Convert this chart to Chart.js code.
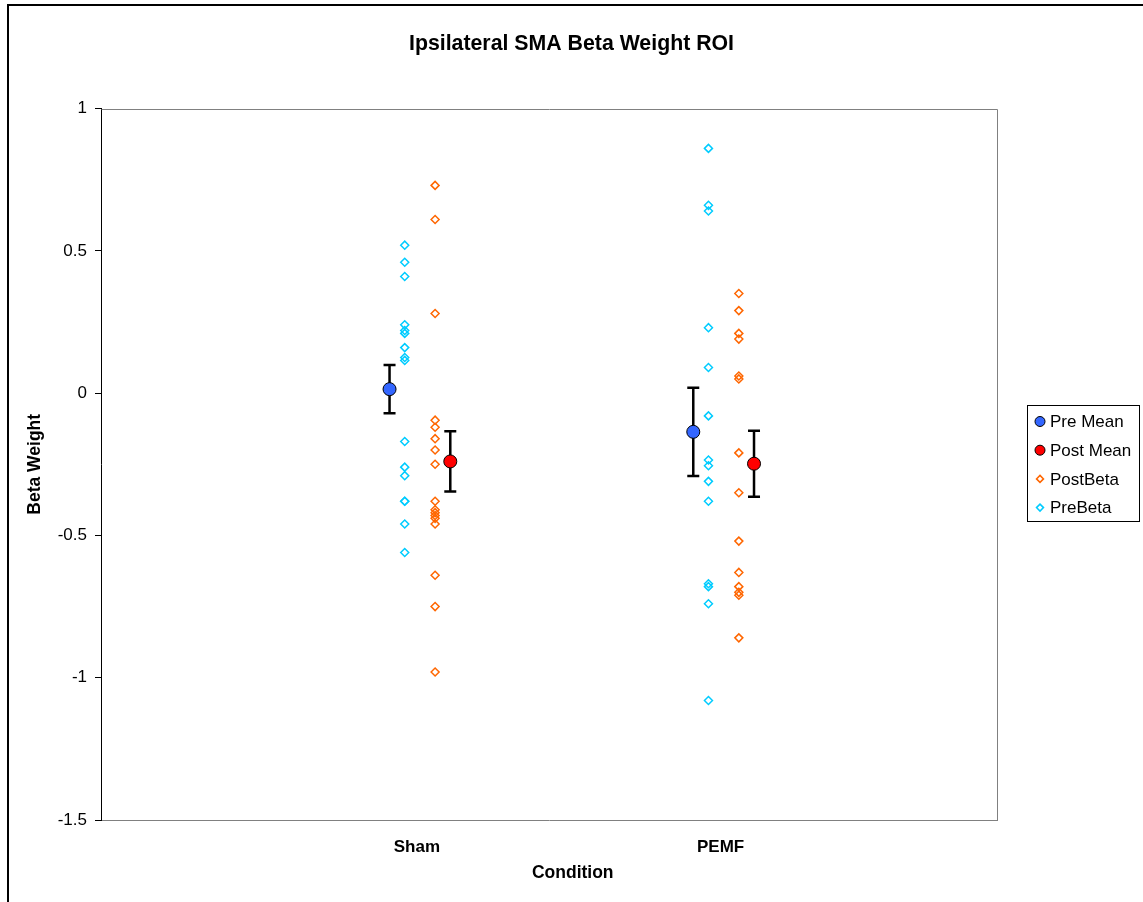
<!DOCTYPE html>
<html><head><meta charset="utf-8">
<script src="https://cdn.jsdelivr.net/npm/chart.js@4.4.0/dist/chart.umd.min.js"></script>
<style>html,body{margin:0;padding:0;background:#fff}#wrap{width:1143px;height:902px;position:relative}</style>
</head><body><div id="wrap"><canvas id="c" width="1143" height="902"></canvas></div>
<script>
// ---- data ----
const categories = ['Sham', 'PEMF'];
const categoryX = [1, 2];
const preMean = [0.014, -0.136];
const preErr = [0.085, 0.155];
const postMean = [-0.240, -0.248];
const postErr = [0.106, 0.116];
const shamPreBeta = [0.52, 0.46, 0.41, 0.24, 0.22, 0.21, 0.16, 0.125, 0.115, -0.17, -0.26, -0.29, -0.38, -0.38, -0.46, -0.56];
const shamPostBeta = [0.73, 0.61, 0.28, -0.095, -0.12, -0.16, -0.20, -0.25, -0.38, -0.41, -0.42, -0.43, -0.44, -0.46, -0.64, -0.75, -0.98];
const pemfPreBeta = [0.86, 0.66, 0.64, 0.23, 0.09, -0.08, -0.235, -0.255, -0.31, -0.38, -0.67, -0.68, -0.74, -1.08];
const pemfPostBeta = [0.35, 0.29, 0.21, 0.19, 0.06, 0.05, -0.21, -0.35, -0.52, -0.63, -0.68, -0.70, -0.71, -0.86];
const yMin = -1.5, yMax = 1, yStep = 0.5;

// ---- layout offsets (not data) ----
const preMeanOffset = -0.05, postMeanOffset = 0.15, preBetaOffset = 0, postBetaOffset = 0.1, labelOffset = 0.04;
const FONT = "'Liberation Sans', Arial, sans-serif";

function pts(vals, x) { return vals.map(v => ({x: x, y: v})); }

const datasets = [
  { label: 'Pre Mean', data: categoryX.map((c, i) => ({x: c + preMeanOffset, y: preMean[i]})), errors: preErr,
    pointStyle: 'circle', pointRadius: 6.5, backgroundColor: '#3366FF', borderColor: '#000', borderWidth: 1, legendRadius: 5 },
  { label: 'Post Mean', data: categoryX.map((c, i) => ({x: c + postMeanOffset, y: postMean[i]})), errors: postErr,
    pointStyle: 'circle', pointRadius: 6.5, backgroundColor: '#FF0000', borderColor: '#000', borderWidth: 1, legendRadius: 5 },
  { label: 'PostBeta', data: pts(shamPostBeta, categoryX[0] + postBetaOffset).concat(pts(pemfPostBeta, categoryX[1] + postBetaOffset)),
    pointStyle: 'rectRot', pointRadius: 4, backgroundColor: 'rgba(0,0,0,0)', borderColor: '#FF6600', borderWidth: 1.5, legendRadius: 3.5 },
  { label: 'PreBeta', data: pts(shamPreBeta, categoryX[0] + preBetaOffset).concat(pts(pemfPreBeta, categoryX[1] + preBetaOffset)),
    pointStyle: 'rectRot', pointRadius: 4, backgroundColor: 'rgba(0,0,0,0)', borderColor: '#00CCFF', borderWidth: 1.5, legendRadius: 3.5 }
];

const framePlugin = {
  id: 'frame',
  beforeDraw(chart) {
    const ctx = chart.ctx;
    ctx.save();
    ctx.fillStyle = '#fff';
    ctx.fillRect(0, 0, chart.width, chart.height);
    ctx.strokeStyle = '#000';
    ctx.lineWidth = 2;
    ctx.strokeRect(8, 5, 1300, 1100);
    ctx.restore();
  },
  beforeDatasetsDraw(chart) {
    const {ctx, chartArea: a} = chart;
    ctx.save();
    ctx.strokeStyle = '#808080';
    ctx.lineWidth = 1;
    ctx.beginPath();
    ctx.moveTo(Math.round(a.left) + 0.5, Math.round(a.top) + 0.5);
    ctx.lineTo(Math.round(a.right) + 0.5, Math.round(a.top) + 0.5);
    ctx.lineTo(Math.round(a.right) + 0.5, Math.round(a.bottom) + 0.5);
    ctx.stroke();
    ctx.restore();
  }
};

const errorBarPlugin = {
  id: 'errorBars',
  beforeDatasetDraw(chart, args) {
    const ds = chart.data.datasets[args.index];
    if (!ds.errors) return;
    const ctx = chart.ctx, ys = chart.scales.y;
    ctx.save();
    ctx.strokeStyle = '#000';
    ctx.lineWidth = 2.5;
    args.meta.data.forEach((el, i) => {
      const v = ds.data[i].y, e = ds.errors[i];
      const x = el.x, yt = ys.getPixelForValue(v + e), yb = ys.getPixelForValue(v - e);
      ctx.beginPath();
      ctx.moveTo(x, yt); ctx.lineTo(x, yb);
      ctx.moveTo(x - 6, yt); ctx.lineTo(x + 6, yt);
      ctx.moveTo(x - 6, yb); ctx.lineTo(x + 6, yb);
      ctx.stroke();
    });
    ctx.restore();
  }
};

const textPlugin = {
  id: 'extraText',
  afterDraw(chart) {
    const ctx = chart.ctx, xs = chart.scales.x;
    ctx.save();
    // x axis title, centred between category labels
    const cx = (xs.getPixelForValue(categoryX[0] + labelOffset) + xs.getPixelForValue(categoryX[categoryX.length - 1] + labelOffset)) / 2;
    ctx.fillStyle = '#000';
    ctx.font = 'bold 17.5px ' + FONT;
    ctx.textAlign = 'center';
    ctx.textBaseline = 'middle';
    ctx.fillText('Condition', cx + 4, 873);
    // legend
    const lx = 1027.5, ly = 405.5, lw = 112, lh = 116;
    ctx.strokeStyle = '#000';
    ctx.lineWidth = 1;
    ctx.strokeRect(lx, ly, lw, lh);
    ctx.font = '17px ' + FONT;
    ctx.textAlign = 'left';
    chart.data.datasets.forEach((ds, i) => {
      const y = 421.5 + i * 28.7, mx = 1040;
      const r = ds.legendRadius;
      ctx.beginPath();
      if (ds.pointStyle === 'circle') {
        ctx.arc(mx, y, r, 0, Math.PI * 2);
        ctx.fillStyle = ds.backgroundColor; ctx.fill();
        ctx.strokeStyle = ds.borderColor; ctx.lineWidth = 1; ctx.stroke();
      } else {
        ctx.moveTo(mx, y - r); ctx.lineTo(mx + r, y); ctx.lineTo(mx, y + r); ctx.lineTo(mx - r, y); ctx.closePath();
        ctx.strokeStyle = ds.borderColor; ctx.lineWidth = 1.5; ctx.stroke();
      }
      ctx.fillStyle = '#000';
      ctx.fillText(ds.label, 1050, y + 1);
    });
    ctx.restore();
  }
};

new Chart(document.getElementById('c'), {
  type: 'scatter',
  data: { datasets: datasets },
  plugins: [framePlugin, errorBarPlugin, textPlugin],
  options: {
    responsive: false,
    animation: false,
    devicePixelRatio: 1,
    events: [],
    layout: { padding: { left: 0, right: 0, top: 0, bottom: 0 } },
    plugins: {
      legend: { display: false },
      tooltip: { enabled: false },
      title: {
        display: true, text: 'Ipsilateral SMA Beta Weight ROI', color: '#000',
        font: { family: FONT, size: 21.3, weight: 'bold' },
        padding: { top: 31, bottom: 52 }
      }
    },
    scales: {
      x: {
        type: 'linear', min: 0, max: 2.95,
        afterBuildTicks(scale) { scale.ticks = categoryX.map(v => ({value: v + labelOffset})); },
        afterFit(scale) { scale.height = 82; },
        ticks: {
          color: '#000', padding: 17, autoSkip: false, maxRotation: 0,
          font: { family: FONT, size: 17, weight: 'bold' },
          callback: (val, i) => categories[i]
        },
        grid: { display: false, drawTicks: false },
        border: { display: true, color: '#808080', width: 1 }
      },
      y: {
        min: yMin, max: yMax,
        afterFit(scale) { scale.width = 101; },
        ticks: { stepSize: yStep, color: '#000', padding: 8, font: { family: FONT, size: 17 },
          callback: v => String(Math.round(v * 10) / 10) },
        grid: { drawOnChartArea: false, drawTicks: true, tickLength: 6, color: '#000', lineWidth: 1 },
        border: { display: true, color: '#000', width: 1 },
        title: { display: true, text: 'Beta Weight', color: '#000', font: { family: FONT, size: 17.5, weight: 'bold' }, padding: { top: 25, bottom: 0 } }
      },
      legendSpace: {
        type: 'linear', position: 'right', display: true,
        afterFit(scale) { scale.width = 146; },
        ticks: { display: false },
        grid: { display: false, drawTicks: false },
        border: { display: false }
      }
    }
  }
});
</script>
</body></html>
